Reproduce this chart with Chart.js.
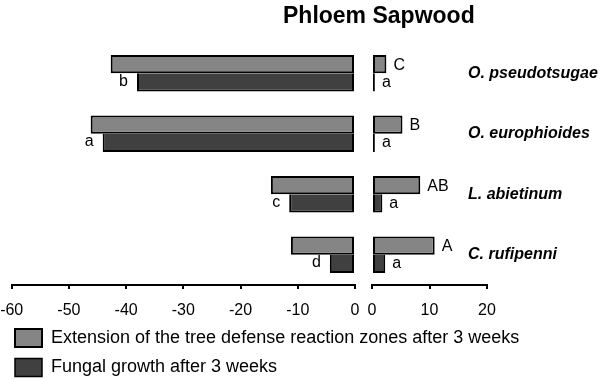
<!DOCTYPE html>
<html><head><meta charset="utf-8">
<script src="https://cdn.jsdelivr.net/npm/chart.js@4/dist/chart.umd.min.js"></script>
<style>
html,body{margin:0;padding:0;background:#fff;width:600px;height:380px;overflow:hidden;}
#wrap{position:relative;width:600px;height:380px;}
canvas{position:absolute;left:0;top:0;}
#title{position:absolute;left:283px;top:2px;font:bold 23px 'Liberation Sans',Arial,sans-serif;color:#000;white-space:nowrap;}
</style></head><body>
<div id="wrap">
<canvas id="phloem" width="600" height="380"></canvas>
<canvas id="sapwood" width="600" height="380"></canvas>
<div id="title">Phloem Sapwood</div>
</div>
<script>
const categories = ['O. pseudotsugae', 'O. europhioides', 'L. abietinum', 'C. rufipenni'];
const seriesNames = ['Extension of the tree defense reaction zones after 3 weeks', 'Fungal growth after 3 weeks'];
const phloemExtension = [-42.7, -46.2, -14.7, -11.2];
const phloemFungal = [-38.1, -44.1, -11.5, -4.4];
const sapwoodExtension = [2.5, 5.3, 8.4, 10.9];
const sapwoodFungal = [0.5, 0.5, 1.8, 2.3];
const phloemLetters = ['b', 'a', 'c', 'd'];
const sapwoodExtLetters = ['C', 'B', 'AB', 'A'];
const sapwoodFungLetters = ['a', 'a', 'a', 'a'];
const phloemTicks = [-60, -50, -40, -30, -20, -10, 0];
const sapwoodTicks = [0, 10, 20];

const FONT = "'Liberation Sans', Arial, sans-serif";
Chart.defaults.font.family = FONT;
Chart.defaults.color = '#000';

const LIGHT = '#858585', DARK = '#404040';
const lightBorder = {top: 2, left: 2, right: 2, bottom: 2};
const darkBorder = {top: 0, left: 2, right: 2, bottom: 2};
const X_AXIS_HEIGHT = 32.5;
const CAT_FONT = {size: 16, weight: 'bold', style: 'italic'};

// widest category label, used to left-align the mirrored labels at one x
const mctx = document.createElement('canvas').getContext('2d');
mctx.font = 'italic bold ' + CAT_FONT.size + 'px ' + FONT;
const widestCat = Math.max(...categories.map(c => mctx.measureText(c).width));

function makeLetters(items) {
  return {
    id: 'letters',
    afterDatasetsDraw(chart) {
      const ctx = chart.ctx;
      ctx.save();
      ctx.fillStyle = '#000';
      ctx.font = '16px ' + FONT;
      ctx.textBaseline = 'middle';
      for (const it of items) {
        const meta = chart.getDatasetMeta(it.dataset);
        meta.data.forEach((bar, i) => {
          ctx.textAlign = it.align;
          ctx.fillText(it.labels[i], bar.x + it.dx, bar.y + it.dy);
        });
      }
      ctx.restore();
    }
  };
}

function xAxis(ticks, padLeft) {
  return {
    type: 'linear',
    min: ticks[0],
    max: ticks[ticks.length - 1],
    stacked: false,
    afterBuildTicks(scale) { scale.ticks = ticks.map(v => ({value: v})); },
    afterFit(scale) {
      scale.height = X_AXIS_HEIGHT;
      if (padLeft !== undefined) { scale.paddingLeft = padLeft; scale.paddingRight = 0; }
    },
    grid: {drawOnChartArea: false, drawTicks: true, tickLength: 4, color: '#000', lineWidth: 2},
    border: {display: true, color: '#000', width: 2},
    ticks: {font: {size: 16, lineHeight: 0.6}, padding: 17.2, color: '#000', maxRotation: 0}
  };
}

new Chart(document.getElementById('phloem'), {
  type: 'bar',
  data: {
    labels: categories,
    datasets: [
      {label: seriesNames[0], data: phloemExtension, backgroundColor: LIGHT, borderColor: '#000', borderWidth: lightBorder, borderSkipped: false, inflateAmount: 0},
      {label: seriesNames[1], data: phloemFungal, backgroundColor: DARK, borderColor: '#000', borderWidth: darkBorder, borderSkipped: false, inflateAmount: 0}
    ]
  },
  options: {
    indexAxis: 'y',
    responsive: false,
    animation: false,
    devicePixelRatio: 1,
    categoryPercentage: 0.6,
    barPercentage: 1,
    layout: {padding: {left: 3.5, right: 0, top: 43, bottom: -6.5}},
    scales: {
      x: xAxis(phloemTicks, 11.7),
      y: {type: 'category', display: false, offset: true},
      ySpace: {
        type: 'category', position: 'right', offset: true,
        grid: {display: false, drawTicks: false}, border: {display: false},
        ticks: {display: false},
        afterFit(scale) { scale.width = 245; scale.paddingTop = 0; scale.paddingBottom = 0; }
      }
    },
    plugins: {
      legend: {
        display: true,
        position: 'bottom',
        align: 'start',
        labels: {boxWidth: 27, boxHeight: 18, padding: 11.5, font: {size: 18}, color: '#000'}
      },
      tooltip: {enabled: false},
      title: {display: false}
    }
  },
  plugins: [makeLetters([{dataset: 1, labels: phloemLetters, align: 'right', dx: -9, dy: -1}])]
});

new Chart(document.getElementById('sapwood'), {
  type: 'bar',
  data: {
    labels: categories,
    datasets: [
      {label: seriesNames[0], data: sapwoodExtension, backgroundColor: LIGHT, borderColor: '#000', borderWidth: lightBorder, borderSkipped: false, inflateAmount: 0},
      {label: seriesNames[1], data: sapwoodFungal, backgroundColor: DARK, borderColor: '#000', borderWidth: darkBorder, borderSkipped: false, inflateAmount: 0}
    ]
  },
  options: {
    indexAxis: 'y',
    responsive: false,
    animation: false,
    devicePixelRatio: 1,
    categoryPercentage: 0.6,
    barPercentage: 1,
    layout: {padding: {left: 372, right: 0, top: 43, bottom: 380 - 285 - X_AXIS_HEIGHT}},
    scales: {
      x: xAxis(sapwoodTicks),
      y: {
        type: 'category',
        position: 'right',
        offset: true,
        grid: {display: false, drawTicks: false},
        border: {display: false},
        afterFit(scale) { scale.width = 113; scale.paddingTop = 0; scale.paddingBottom = 0; },
        ticks: {mirror: true, crossAlign: 'far', padding: widestCat - 19, color: '#000',
                font: CAT_FONT, autoSkip: false}
      }
    },
    plugins: {legend: {display: false}, tooltip: {enabled: false}, title: {display: false}}
  },
  plugins: [makeLetters([
    {dataset: 0, labels: sapwoodExtLetters, align: 'left', dx: 7, dy: 1},
    {dataset: 1, labels: sapwoodFungLetters, align: 'left', dx: 7, dy: 0}
  ])]
});
</script>
</body></html>
